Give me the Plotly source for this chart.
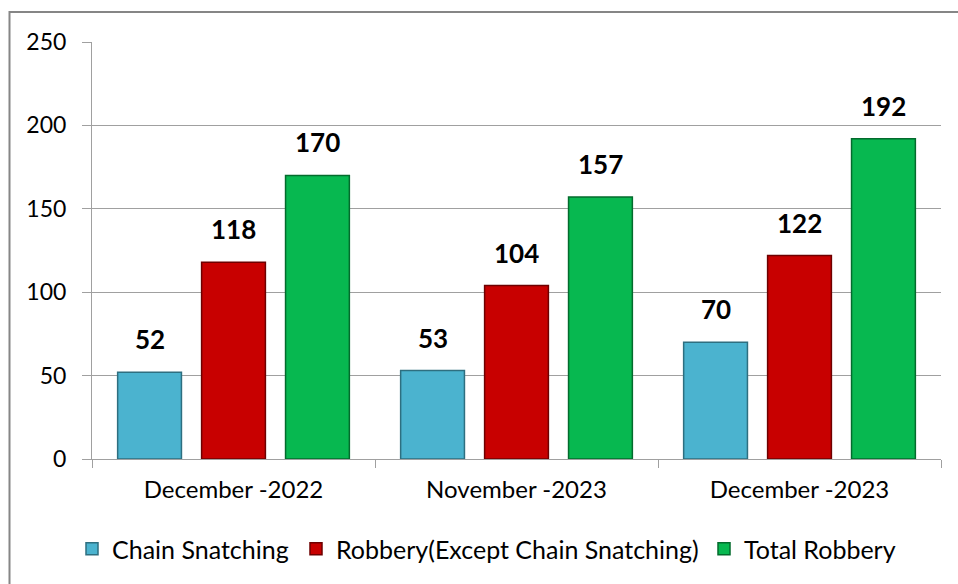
import plotly.graph_objects as go

categories = ["December -2022", "November -2023", "December -2023"]
series_names = ["Chain Snatching", "Robbery(Except Chain Snatching)", "Total Robbery"]
chain_snatching = [52, 53, 70]
robbery_except = [118, 104, 122]
total_robbery = [170, 157, 192]
y_ticks = [0, 50, 100, 150, 200, 250]

series_values = [chain_snatching, robbery_except, total_robbery]
colors = ["#4BB3CF", "#C80000", "#07B850"]
edge_colors = ["#2E6F80", "#6E0000", "#036B2D"]

FONT = "Lato"
W, H = 958, 584
L, R, T, B = 92, 17, 42, 125
pw, ph = W - L - R, H - T - B

legend_ids = ["legend", "legend2", "legend3"]
legend_text_px = [112, 336, 744]

fig = go.Figure()
for name, vals, c, ec, lid in zip(series_names, series_values, colors, edge_colors, legend_ids):
    fig.add_trace(go.Bar(
        x=categories, y=vals, name=name, legend=lid,
        marker=dict(color=c, line=dict(color=ec, width=1.5)),
    ))

# data labels above bars
n = len(series_names)
slot = (1 - 0.11) / n
for i, vals in enumerate(series_values):
    off = (i - (n - 1) / 2) * slot
    for j, v in enumerate(vals):
        fig.add_annotation(
            x=j + off, y=v, xref="x", yref="y", text=f"<b>{v}</b>",
            showarrow=False, yanchor="bottom", yshift=15,
            font=dict(family=FONT, size=26, color="#000000"),
        )

fig.add_shape(
    type="rect", xref="paper", yref="paper",
    x0=(9.5 - L) / pw, x1=(W + 20 - L) / pw,
    y0=-(H + 20 - T - ph) / ph, y1=(H - B - 12) / ph,
    line=dict(color="#868686", width=2), fillcolor="rgba(0,0,0,0)", layer="below",
)

legend_layout = {}
for lid, tx in zip(legend_ids, legend_text_px):
    legend_layout[lid] = dict(
        orientation="h", x=(tx - 40 - L) / pw, xanchor="left",
        y=-0.216, yanchor="middle", bgcolor="rgba(0,0,0,0)",
        font=dict(family=FONT, size=25, color="#000000"), itemwidth=30,
    )

fig.update_layout(
    width=W, height=H,
    margin=dict(l=L, r=R, t=T, b=B),
    paper_bgcolor="white", plot_bgcolor="white",
    barmode="group", bargap=0.11, bargroupgap=0.24,
    font=dict(family=FONT, size=24, color="#000000"),
    showlegend=True,
    xaxis=dict(
        type="category", tickson="boundaries", ticks="outside", ticklen=8,
        tickcolor="#A0A0A0", showline=True, linecolor="#A0A0A0", linewidth=1,
        showgrid=False, tickfont=dict(family=FONT, size=24), ticklabelstandoff=9,
    ),
    yaxis=dict(
        range=[0, 250], tickvals=y_ticks, ticks="outside", ticklen=9,
        tickcolor="#A0A0A0", showline=True, linecolor="#A0A0A0", linewidth=1,
        showgrid=True, gridcolor="#A0A0A0", gridwidth=1, zeroline=False,
        tickfont=dict(family=FONT, size=23), ticklabelstandoff=11,
    ),
    **legend_layout,
)

fig.write_html("out.html", config={"displayModeBar": False},
               post_script="document.body.style.margin='0px';")
